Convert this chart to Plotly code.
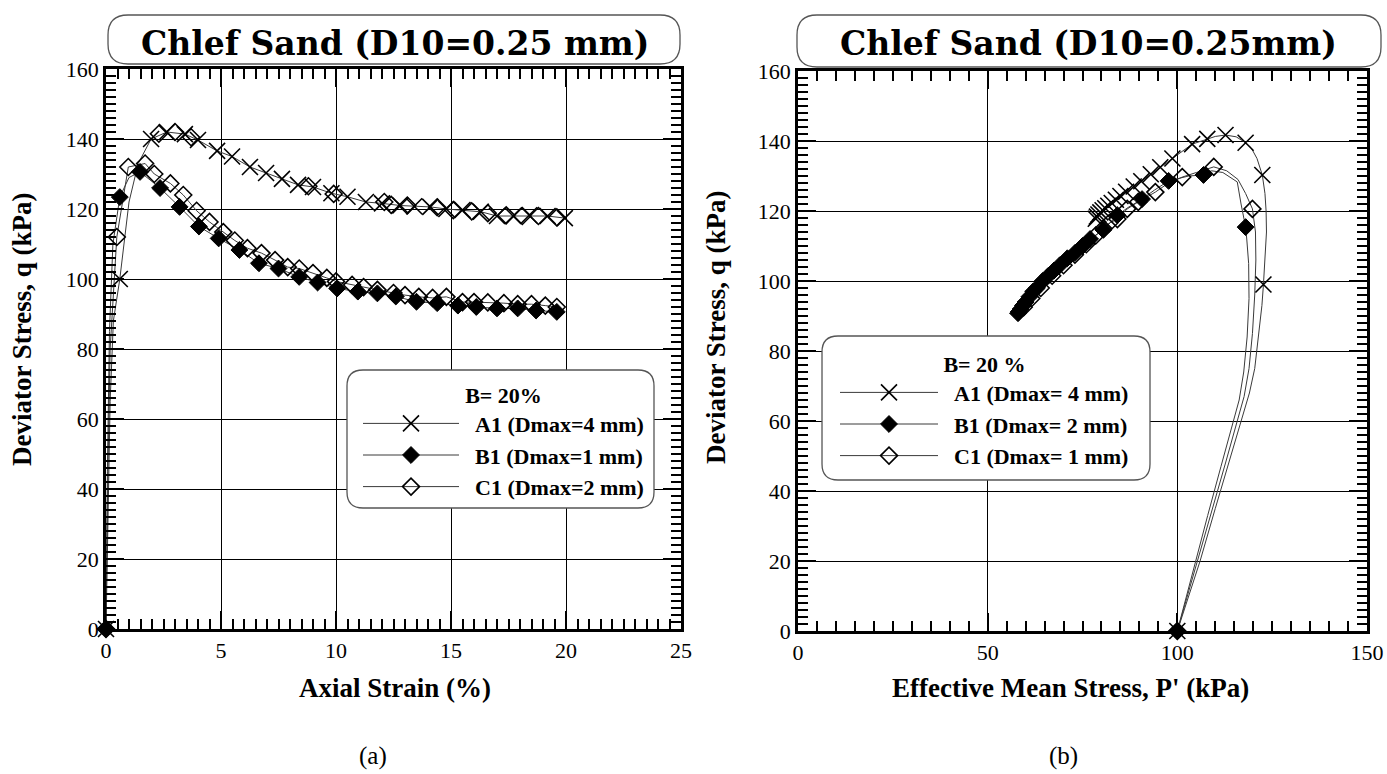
import plotly.graph_objects as go

# ---------------- data: panel (a) q vs axial strain ----------------
strain_A1_path = [0, 0.08, 0.18, 0.32, 0.6, 1.0, 1.4, 1.96, 2.65, 3.43, 4.0, 4.83, 5.48, 6.26, 6.96, 7.65,
                  8.35, 9.0, 9.8, 10.5, 11.3, 12.0, 12.8, 13.4, 14.1, 14.8, 15.5, 16.3, 17.0, 17.7, 18.4, 19.2, 19.95]
q_A1_path = [0, 35, 65, 88, 100, 122, 133, 140, 142, 141.4, 139.7, 136.6, 135, 132, 130.3, 128.6,
             126.9, 126.3, 124.5, 123.5, 122, 121.6, 121, 120.8, 120.6, 120, 119.7, 119.2, 118, 118, 118.2, 118, 117.4]
strain_A1_mk = [0, 0.6, 1.96, 2.65, 3.43, 4.0, 4.83, 5.48, 6.26, 6.96, 7.65, 8.35, 9.0, 9.8, 10.5, 11.3,
                12.0, 12.8, 13.4, 14.1, 14.8, 15.5, 16.3, 17.0, 17.7, 18.4, 19.2, 19.95]
q_A1_mk = [0, 100, 140, 142, 141.4, 139.7, 136.6, 135, 132, 130.3, 128.6, 126.9, 126.3, 124.5, 123.5, 122,
           121.6, 121, 120.8, 120.6, 120, 119.7, 119.2, 118, 118, 118.2, 118, 117.4]

strain_B1_path = [0, 0.06, 0.15, 0.3, 0.6, 1.0, 1.48, 2.35, 3.2, 4.04, 4.9, 5.8, 6.65, 7.5, 8.4, 9.2, 10.05,
                  10.95, 11.8, 12.6, 13.5, 14.4, 15.3, 16.1, 17.0, 17.9, 18.7, 19.6]
q_B1_path = [0, 45, 85, 110, 123.4, 129, 130.6, 126, 120.6, 115, 111.6, 108.3, 104.5, 103, 100.6, 99, 97.3,
             96.4, 95.9, 95, 93.5, 93.1, 92.4, 92, 91.6, 91.6, 91, 90.6]
strain_B1_mk = [0, 0.6, 1.48, 2.35, 3.2, 4.04, 4.9, 5.8, 6.65, 7.5, 8.4, 9.2, 10.05, 10.95, 11.8, 12.6, 13.5,
                14.4, 15.3, 16.1, 17.0, 17.9, 18.7, 19.6]
q_B1_mk = [0, 123.4, 130.6, 126, 120.6, 115, 111.6, 108.3, 104.5, 103, 100.6, 99, 97.3, 96.4, 95.9, 95, 93.5,
           93.1, 92.4, 92, 91.6, 91.6, 91, 90.6]

strain_C1_path = [0, 0.07, 0.18, 0.47, 0.97, 1.7, 2.1, 2.8, 3.36, 3.94, 4.5, 5.1, 5.6, 6.15, 6.76, 7.35, 7.9,
                  8.4, 9.0, 9.6, 10.0, 10.7, 11.2, 11.8, 12.5, 13.0, 13.6, 14.2, 14.8, 15.5, 16.0, 16.6,
                  17.3, 17.9, 18.5, 19.1, 19.6]
q_C1_path = [0, 40, 80, 112, 132, 133, 130, 127.3, 124, 119.5, 116.3, 113.4, 111, 108.8, 107.4, 105.4, 103.4,
             103, 101.7, 100.3, 99.3, 98.3, 97.7, 96.9, 96, 95.4, 94.9, 94.6, 94.9, 93.4, 93.4, 93.3,
             93.1, 92.8, 92.8, 92.4, 92.0]
strain_C1_mk = strain_C1_path[:1] + strain_C1_path[3:]
q_C1_mk = q_C1_path[:1] + q_C1_path[3:]

# diamonds overlapping the upper (A1) curve in panel (a)
strain_up_mk = [2.3, 3.0, 3.7, 8.8, 9.9, 12.1, 12.4, 13.1, 14.4, 15.1, 15.9, 16.6, 17.4, 18.1, 18.8, 19.6]
q_up_mk = [141.5, 142, 140.5, 126.5, 124.3, 122, 121.2, 121, 120.5, 119.7, 119.3, 118.8, 118.2, 118, 118, 117.6]

# ---------------- data: panel (b) q vs p' ----------------
p_A1_path = [100, 103, 106, 110, 114, 117, 119, 120.4, 121.5, 122.3, 122.7, 123.2, 123.5, 123.4, 123.1, 122.4,
             121, 119.5, 118, 115.5, 112.7, 110, 107.9, 103.9, 98.7, 95.5, 93, 90.5, 88.5, 86.5, 85, 83.8,
             82.7, 81.8, 81, 80.3, 79.7, 79.2, 78.8, 78.5]
q_A1b_path = [0, 10, 20, 35, 50, 61, 68, 75, 85, 93, 99, 107, 114, 120, 125, 130.3,
              135, 138, 139.5, 141.2, 141.7, 141.3, 140.6, 139.1, 135, 132.5, 130.5, 128.5, 127, 125.5, 124.3, 123.2,
              122.3, 121.5, 120.8, 120.2, 119.6, 119, 118.4, 117.8]
p_A1_mk = [100, 122.7, 122.4, 118, 112.7, 107.9, 103.9, 98.7, 95.5, 93, 90.5, 88.5, 86.5, 85, 83.8, 82.7,
           81.8, 81, 80.3, 79.7, 79.2, 78.8, 78.5]
q_A1b_mk = [0, 99, 130.3, 139.5, 141.7, 140.6, 139.1, 135, 132.5, 130.5, 128.5, 127, 125.5, 124.3, 123.2, 122.3,
            121.5, 120.8, 120.2, 119.6, 119, 118.4, 117.8]

p_B1_path = [100, 102.4, 104.7, 108, 111.5, 114.5, 116.3, 117.5, 118.4, 118.9, 118.8, 118.3, 118, 116.8, 115.8,
             112, 109, 106.9, 103, 97.7, 94, 90.7, 87, 84.2, 80.5, 77, 75, 73, 71, 69, 67.5, 66, 64.5, 63, 62,
             61, 60, 59.3, 58.7, 58.2, 58]
q_B1b_path = [0, 10, 20, 33, 47, 59, 66, 74, 84, 95, 105, 112, 115.4, 122, 128.3,
              131, 131.5, 130.3, 130, 128.6, 126, 123.4, 121, 118.8, 114.6, 112, 110, 108, 106.5, 104.5, 103,
              101.5, 100, 98, 97, 95.5, 94, 93, 92, 91.2, 90.8]
p_B1_mk = [100, 118, 106.9, 97.7, 90.7, 84.2, 80.5, 77, 75, 73, 71, 69, 67.5, 66, 64.5, 63, 62, 61, 60,
           59.3, 58.7, 58.2, 58]
q_B1b_mk = [0, 115.4, 130.3, 128.6, 123.4, 118.8, 114.6, 112, 110, 108, 106.5, 104.5, 103, 101.5, 100, 98,
            97, 95.5, 94, 93, 92, 91.2, 90.8]

p_C1_path = [100, 102.6, 105.3, 109, 112.7, 115.8, 117.6, 118.9, 119.8, 120.4, 120.7, 120.6, 119.8, 118, 116,
             113, 109.6, 105, 101.3, 97, 94.2, 89.7, 86.8, 84.2, 82, 80.5, 78.5, 76, 73, 70, 67, 64, 61.5, 59.5]
q_C1b_path = [0, 10, 20, 34, 48, 60, 67, 75, 85, 96, 106, 114, 120.6, 125, 129,
              131.5, 132.6, 131, 129.7, 127.5, 125.4, 122.6, 120.6, 117.7, 116.5, 115, 113, 110.5, 107.5, 104.5,
              101.5, 98, 95, 92.5]
p_C1_mk = [100, 119.8, 109.6, 101.3, 94.2, 89.7, 86.8, 84.2, 82, 80.5, 78.5, 76, 73, 70, 67, 64, 61.5, 59.5]
q_C1b_mk = [0, 120.6, 132.6, 129.7, 125.4, 122.6, 120.6, 117.7, 116.5, 115, 113, 110.5, 107.5, 104.5, 101.5,
            98, 95, 92.5]

legend_a = ["A1 (Dmax=4 mm)", "B1 (Dmax=1 mm)", "C1 (Dmax=2 mm)"]
legend_b = ["A1 (Dmax= 4 mm)", "B1 (Dmax= 2 mm)", "C1 (Dmax= 1 mm)"]

# ---------------- layout helpers ----------------
W, H = 1387, 774


def px(x):
    return x / W


def py(y):
    return 1 - y / H


def rrect(x0, y0, x1, y1, r):
    def P(x, y):
        return f"{px(x):.5f},{py(y):.5f}"
    return (f"M{P(x0 + r, y0)} L{P(x1 - r, y0)} Q{P(x1, y0)} {P(x1, y0 + r)} "
            f"L{P(x1, y1 - r)} Q{P(x1, y1)} {P(x1 - r, y1)} L{P(x0 + r, y1)} "
            f"Q{P(x0, y1)} {P(x0, y1 - r)} L{P(x0, y0 + r)} Q{P(x0, y0)} {P(x0 + r, y0)} Z")


SERIF = "Liberation Serif"
LINE = dict(color="#3a3a3a", width=1)
STY = {
    "A1": dict(symbol="x-thin-open", size=16, color="black", line=dict(color="black", width=1.6)),
    "B1": dict(symbol="diamond", size=13, color="black", line=dict(color="black", width=1)),
    "C1": dict(symbol="diamond-open", size=13, color="black", line=dict(color="black", width=1.6)),
}
PAD = "\u00a0\u00a0"

fig = go.Figure()


def add(x, y, mode, xa, ya, marker=None, name=None, legend="legend", showlegend=False):
    fig.add_trace(go.Scatter(x=x, y=y, mode=mode, xaxis=xa, yaxis=ya, line=LINE,
                             marker=marker, name=name, legend=legend, showlegend=showlegend,
                             cliponaxis=False, hoverinfo="skip"))


# panel (a)
add(strain_A1_path, q_A1_path, "lines", "x", "y")
add(strain_B1_path, q_B1_path, "lines", "x", "y")
add(strain_C1_path, q_C1_path, "lines", "x", "y")
add(strain_up_mk, q_up_mk, "markers", "x", "y", STY["C1"])
add(strain_C1_mk, q_C1_mk, "markers", "x", "y", STY["C1"])
add(strain_B1_mk, q_B1_mk, "markers", "x", "y", STY["B1"])
add(strain_A1_mk, q_A1_mk, "markers", "x", "y", STY["A1"])

# panel (b)
add(p_A1_path, q_A1b_path, "lines", "x2", "y2")
add(p_B1_path, q_B1b_path, "lines", "x2", "y2")
add(p_C1_path, q_C1b_path, "lines", "x2", "y2")
add(p_C1_mk, q_C1b_mk, "markers", "x2", "y2", STY["C1"])
add(p_B1_mk, q_B1b_mk, "markers", "x2", "y2", STY["B1"])
add(p_A1_mk, q_A1b_mk, "markers", "x2", "y2", STY["A1"])

# legend keys
for key, nm in zip(["A1", "B1", "C1"], legend_a):
    add([None], [None], "lines+markers", "x", "y", STY[key], PAD + nm, "legend", True)
for key, nm in zip(["A1", "B1", "C1"], legend_b):
    add([None], [None], "lines+markers", "x2", "y2", STY[key], PAD + nm, "legend2", True)

axis_common = dict(
    showline=True, linecolor="black", linewidth=2.5, mirror="ticks", automargin=False,
    ticks="inside", ticklen=18, tickwidth=2, tickcolor="black",
    showgrid=True, gridcolor="black", gridwidth=1, zeroline=False,
    tickfont=dict(family=SERIF, size=22, color="black"),
)
title_font = dict(family=SERIF, size=27, color="black", weight="bold")
leg_font = dict(family=SERIF, size=22, color="black", weight="bold")

fig.update_layout(
    width=W, height=H, margin=dict(l=0, r=0, t=0, b=0, pad=0, autoexpand=False),
    paper_bgcolor="white", plot_bgcolor="white",
    xaxis=dict(domain=[px(106), px(681)], range=[0, 25], dtick=5, anchor="y",
               minor=dict(dtick=0.5, ticks="inside", ticklen=10, tickwidth=2, tickcolor="black", showgrid=False),
               **axis_common),
    yaxis=dict(domain=[py(629), py(69)], range=[0, 160], dtick=20, anchor="x",
               minor=dict(dtick=2, ticks="inside", ticklen=10, tickwidth=2, tickcolor="black", showgrid=False),
               **axis_common),
    xaxis2=dict(domain=[px(798), px(1367)], range=[0, 150], dtick=50, anchor="y2",
                minor=dict(dtick=5, ticks="inside", ticklen=10, tickwidth=2, tickcolor="black", showgrid=False),
                **axis_common),
    yaxis2=dict(domain=[py(631), py(71)], range=[0, 160], dtick=20, anchor="x2",
                minor=dict(dtick=2, ticks="inside", ticklen=10, tickwidth=2, tickcolor="black", showgrid=False),
                **axis_common),
    legend=dict(x=px(358), y=py(374), xanchor="left", yanchor="top", bgcolor="rgba(0,0,0,0)",
                itemwidth=96, font=leg_font,
                title=dict(text="B= 20%", side="top center", font=leg_font)),
    legend2=dict(x=px(835), y=py(343), xanchor="left", yanchor="top", bgcolor="rgba(0,0,0,0)",
                 itemwidth=98, font=leg_font,
                 title=dict(text="B= 20 %", side="top center", font=leg_font)),
    showlegend=True,
)

shapes = [
    dict(type="path", xref="paper", yref="paper", path=rrect(347, 370, 654, 508, 16),
         line=dict(color="#555", width=1.3), fillcolor="white", layer="above"),
    dict(type="path", xref="paper", yref="paper", path=rrect(822, 336, 1150, 480, 16),
         line=dict(color="#555", width=1.3), fillcolor="white", layer="above"),
    dict(type="path", xref="paper", yref="paper", path=rrect(108, 15, 680, 64, 20),
         line=dict(color="#555", width=1.3), fillcolor="white", layer="above"),
    dict(type="path", xref="paper", yref="paper", path=rrect(797, 15, 1381, 67, 20),
         line=dict(color="#555", width=1.3), fillcolor="white", layer="above"),
]
fig.update_layout(shapes=shapes)


def note(x, y, text, font, angle=0):
    fig.add_annotation(x=px(x), y=py(y), xref="paper", yref="paper", text=text, showarrow=False,
                       font=font, xanchor="center", yanchor="middle", textangle=angle)


title_text_font = dict(family="DejaVu Serif", size=33, color="black", weight="bold")
note(395, 43, "Chlef Sand (D10=0.25 mm)", title_text_font)
note(1088, 44, "Chlef Sand (D10=0.25mm)", title_text_font)
note(395, 688, "Axial Strain (%)", title_font)
note(1070, 688, "Effective Mean Stress, P' (kPa)", title_font)
note(22, 330, "Deviator Stress, q (kPa)", title_font, -90)
note(716, 328, "Deviator Stress, q (kPa)", title_font, -90)
note(373, 756, "(a)", dict(family=SERIF, size=25, color="black"))
note(1063, 756, "(b)", dict(family=SERIF, size=25, color="black"))

fig.write_html("out.html")
